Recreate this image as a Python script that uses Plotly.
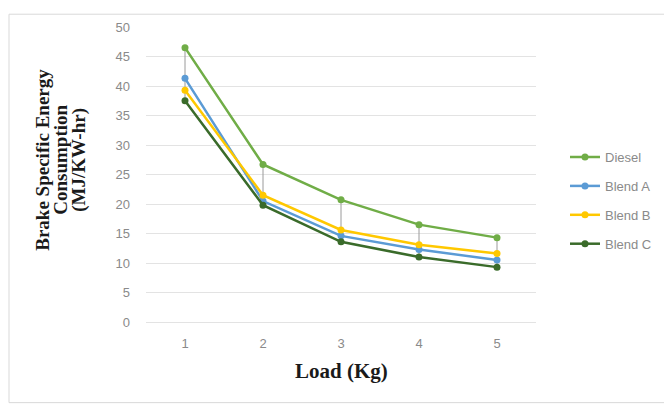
import plotly.graph_objects as go

loads = [1, 2, 3, 4, 5]
tick_labels = ["1", "2", "3", "4", "5"]
diesel = [46.5, 26.7, 20.7, 16.5, 14.3]
blend_a = [41.3, 20.5, 14.6, 12.3, 10.5]
blend_b = [39.3, 21.5, 15.6, 13.1, 11.6]
blend_c = [37.5, 19.8, 13.6, 11.0, 9.3]

series = [
    ("Diesel", diesel, "#70AD47"),
    ("Blend A", blend_a, "#5B9BD5"),
    ("Blend B", blend_b, "#FFC800"),
    ("Blend C", blend_c, "#3A6B2A"),
]

fig = go.Figure()

# high-low lines
hx, hy = [], []
for i, x in enumerate(loads):
    vals = [s[1][i] for s in series]
    hx += [x, x, None]
    hy += [max(vals), min(vals), None]
fig.add_trace(go.Scatter(x=hx, y=hy, mode="lines", line=dict(color="#9a9a9a", width=1),
                         showlegend=False, hoverinfo="skip"))

for i, (name, vals, col) in enumerate(series):
    fig.add_trace(go.Scatter(x=loads, y=vals, name=name, mode="lines+markers",
                             line=dict(color=col, width=2.5),
                             marker=dict(color=col, size=7),
                             legendgroup=f"g{i}"))

O = 8  # page body margin
W, H = 672 - O, 406 - O
L, R, T, B = 146 - O, 536 - O, 22 - O, 322 - O


def px(x):
    return (x - O - L) / (R - L)


def py(y):
    return 1 - (y - O - T) / (B - T)


fig.update_layout(
    width=W, height=H,
    margin=dict(l=L, r=W - R, t=T, b=H - B),
    paper_bgcolor="white", plot_bgcolor="white",
    font=dict(family="Liberation Sans", size=13, color="#8a8a8a"),
    xaxis=dict(range=[0.5, 5.5], tickvals=loads, ticktext=tick_labels, showgrid=False,
               zeroline=False, showline=False, ticks="", ticklabelstandoff=12,
               tickfont=dict(size=13, color="#8a8a8a")),
    yaxis=dict(range=[0, 50], dtick=5, showgrid=True, gridcolor="#e3e3e3", gridwidth=1,
               zeroline=True, zerolinecolor="#e3e3e3", zerolinewidth=1,
               showline=False, ticks="", ticklabelstandoff=15,
               tickfont=dict(size=13, color="#8a8a8a")),
    legend=dict(x=px(565), y=py(139), xanchor="left", yanchor="top",
                font=dict(size=13, color="#8a8a8a"),
                tracegroupgap=9, bgcolor="rgba(0,0,0,0)"),
    showlegend=True,
)

# axis titles as annotations
title_font = dict(family="Liberation Serif", size=19, color="#1a1a1a")
ylines = ["Brake Specific Energy", "Consumption", "(MJ/KW-hr)"]
for j, txt in enumerate(ylines):
    fig.add_annotation(text=f"<b>{txt}</b>", xref="paper", yref="paper",
                       x=px(43 + j * 18), y=py(157),
                       showarrow=False, textangle=-90, font=title_font,
                       xanchor="center", yanchor="middle")
fig.add_annotation(text="<b>Load (Kg)</b>", xref="paper", yref="paper",
                   x=px(341), y=py(372),
                   showarrow=False, font=dict(family="Liberation Serif", size=21, color="#1a1a1a"),
                   xanchor="center", yanchor="middle")

# outer frame
fig.add_shape(type="rect", xref="paper", yref="paper",
              x0=px(9), x1=px(666), y0=py(404), y1=py(9),
              line=dict(color="#d9d9d9", width=1), fillcolor="rgba(0,0,0,0)", layer="below")

fig.write_html("out.html")
